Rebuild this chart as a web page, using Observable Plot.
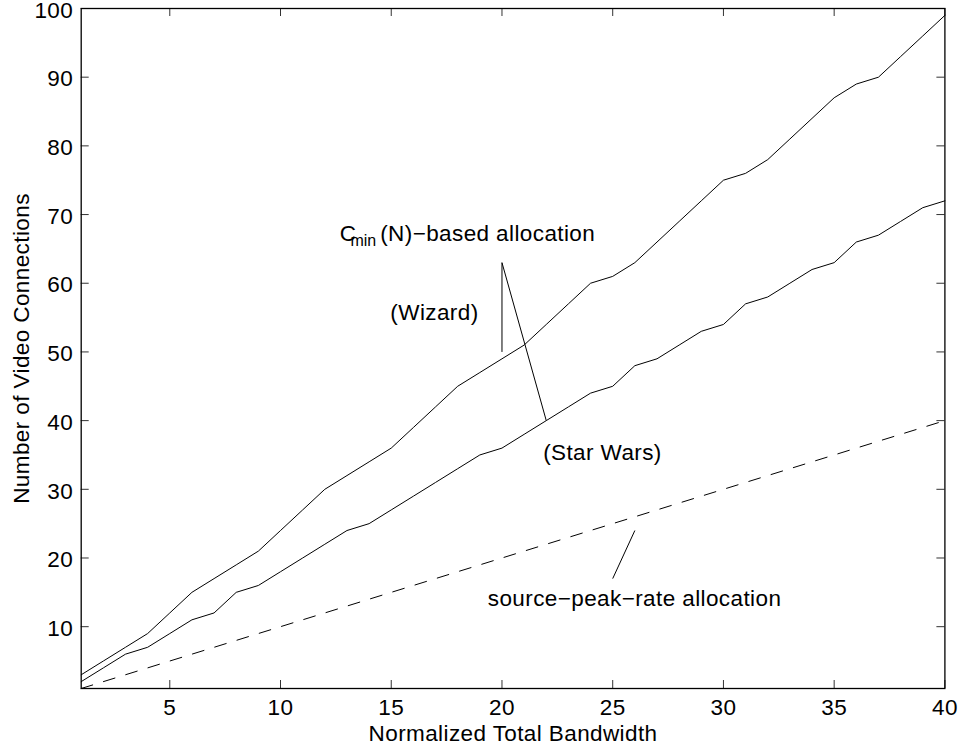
<!DOCTYPE html>
<html><head><meta charset="utf-8">
<script src="https://cdn.jsdelivr.net/npm/d3@7"></script>
<script src="https://cdn.jsdelivr.net/npm/@observablehq/plot@0.6"></script>
<style>body{margin:0;background:#fff} svg{display:block}</style>
</head><body><div id="chart"></div>
<script>
// Normalized total bandwidth (x)
const bandwidth = [1,2,3,4,5,6,7,8,9,10,11,12,13,14,15,16,17,18,19,20,21,22,23,24,25,26,27,28,29,30,31,32,33,34,35,36,37,38,39,40];
// Cmin(N)-based allocation, Wizard
const wizard = [3,5,7,9,12,15,17,19,21,24,27,30,32,34,36,39,42,45,47,49,51,54,57,60,61,63,66,69,72,75,76,78,81,84,87,89,90,93,96,99];
// Cmin(N)-based allocation, Star Wars
const starWars = [2,4,6,7,9,11,12,15,16,18,20,22,24,25,27,29,31,33,35,36,38,40,42,44,45,48,49,51,53,54,57,58,60,62,63,66,67,69,71,72];
// source-peak-rate allocation
const peakRate = [1,2,3,4,5,6,7,8,9,10,11,12,13,14,15,16,17,18,19,20,21,22,23,24,25,26,27,28,29,30,31,32,33,34,35,36,37,38,39,40];

const xTicks = [5,10,15,20,25,30,35,40];
const yTicks = [10,20,30,40,50,60,70,80,90,100];
const xLabel = "Normalized Total Bandwidth";
const yLabel = "Number of Video Connections";

// annotations (data coordinates)
const annotations = [
  {id: "cmin", text: "Cmin(N)−based allocation", x: 12.675, y: 66.14},
  {id: "wiz", text: "(Wizard)", x: 14.96, y: 54.64},
  {id: "sw", text: "(Star Wars)", x: 21.86, y: 34.33},
  {id: "spr", text: "source−peak−rate allocation", x: 19.36, y: 12.98}
];
const pointers = [
  {x1: 20, y1: 63, x2: 20, y2: 50},
  {x1: 20, y1: 63, x2: 22, y2: 40},
  {x1: 26, y1: 24, x2: 25, y2: 17}
];

const rows = bandwidth.map((b, i) => ({b, wizard: wizard[i], starWars: starWars[i], peak: peakRate[i]}));

const W = 961, H = 751, mL = 80.7, mR = 16.6, mT = 8, mB = 63;
const fw = W - mL - mR, fh = H - mT - mB, tl = 8;
const FS = 22.5;

const chart = Plot.plot({
  width: W, height: H,
  marginLeft: mL, marginRight: mR, marginTop: mT, marginBottom: mB,
  x: {domain: [1, 40]},
  y: {domain: [1, 100]},
  style: {fontFamily: "'Liberation Sans', Arial, Helvetica, sans-serif", fontSize: FS + "px", color: "#000", background: "#fff"},
  marks: [
    Plot.gridX({ticks: xTicks, insetTop: fh - tl, stroke: "#333", strokeOpacity: 1, strokeWidth: 1}),
    Plot.gridX({ticks: xTicks, insetBottom: fh - tl, stroke: "#333", strokeOpacity: 1, strokeWidth: 1}),
    Plot.gridY({ticks: yTicks, insetRight: fw - tl, stroke: "#333", strokeOpacity: 1, strokeWidth: 1}),
    Plot.gridY({ticks: yTicks, insetLeft: fw - tl, stroke: "#333", strokeOpacity: 1, strokeWidth: 1}),
    Plot.axisX({ticks: xTicks, tickSize: 0, tickPadding: 11, label: null, fontSize: FS}),
    Plot.axisY({ticks: yTicks, tickSize: 0, tickPadding: 8, dy: 2, label: null, fontSize: FS}),
    Plot.line(rows, {x: "b", y: "wizard", stroke: "#000", strokeWidth: 1}),
    Plot.line(rows, {x: "b", y: "starWars", stroke: "#000", strokeWidth: 1}),
    Plot.line(rows, {x: "b", y: "peak", stroke: "#000", strokeWidth: 1, strokeDasharray: "12,11.3"}),
    Plot.link(pointers, {x1: "x1", y1: "y1", x2: "x2", y2: "y2", stroke: "#000", strokeWidth: 1}),
    Plot.text(annotations, {x: "x", y: "y", text: "text", textAnchor: "start", lineAnchor: "bottom", fontSize: FS, fill: "#000"}),
    Plot.text([xLabel], {frameAnchor: "bottom", dy: 52.7, text: d => d, textAnchor: "middle", lineAnchor: "bottom", fontSize: FS, fill: "#000"}),
    Plot.text([yLabel], {frameAnchor: "left", dx: -52.5, rotate: -90, text: d => d, textAnchor: "middle", lineAnchor: "bottom", fontSize: FS, fill: "#000"}),
    Plot.frame({stroke: "#000", strokeWidth: 1.3})
  ]
});

// slightly wider letter spacing to match the reference face
d3.select(chart).selectAll("text").attr("letter-spacing", "0.4px");

// render subscript in "Cmin(N)-based allocation"
d3.select(chart).selectAll("text")
  .filter(function() { return this.textContent === annotations[0].text; })
  .each(function() {
    const t = d3.select(this);
    t.text(null);
    t.append("tspan").text("C");
    t.append("tspan").attr("dx", -6).attr("dy", 5).style("font-size", "16px").attr("letter-spacing", "0px").text("min");
    t.append("tspan").attr("dx", 4).attr("dy", -5).text("(N)−based allocation");
  });

document.getElementById("chart").appendChild(chart);
</script>
</body></html>
